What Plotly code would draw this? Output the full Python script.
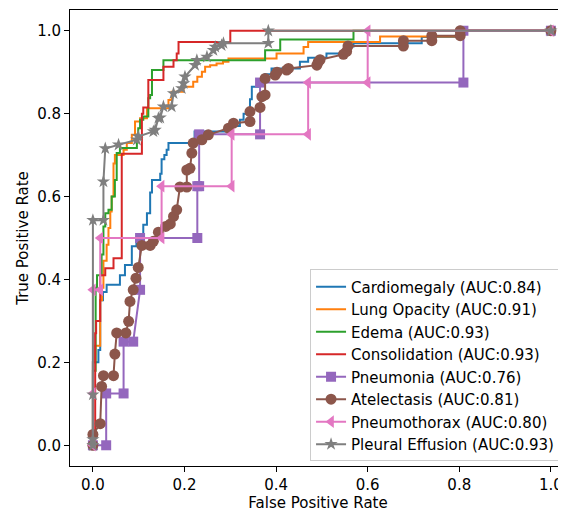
import plotly.graph_objects as go

# ---------------- data ----------------
labels = ["Cardiomegaly", "Lung Opacity", "Edema", "Consolidation",
          "Pneumonia", "Atelectasis", "Pneumothorax", "Pleural Effusion"]
aucs = [0.84, 0.91, 0.93, 0.93, 0.76, 0.81, 0.80, 0.93]

cardio_fpr = [0, 0, 0.012, 0.012, 0.016, 0.016, 0.022, 0.022, 0.03, 0.03, 0.059, 0.059, 0.07, 0.07,
              0.085, 0.085, 0.095, 0.095, 0.11, 0.11, 0.118, 0.118, 0.125, 0.125, 0.129, 0.129,
              0.147, 0.147, 0.15, 0.15, 0.156, 0.156, 0.161, 0.161, 0.165, 0.165, 0.222, 0.222,
              0.3, 0.3, 0.321, 0.321, 0.329, 0.329, 0.343, 0.343, 0.347, 0.347, 0.361, 0.361,
              0.375, 0.375, 0.39, 0.39, 0.452, 0.452, 0.47, 0.47, 0.51, 0.51, 0.554, 0.554,
              0.569, 0.569, 0.718, 0.718, 0.81, 0.81, 1.0]
cardio_tpr = [0, 0.2, 0.2, 0.23, 0.23, 0.35, 0.35, 0.37, 0.37, 0.387, 0.387, 0.41, 0.41, 0.435,
              0.435, 0.48, 0.48, 0.5, 0.5, 0.532, 0.532, 0.56, 0.56, 0.61, 0.61, 0.64,
              0.64, 0.655, 0.655, 0.69, 0.69, 0.7, 0.7, 0.713, 0.713, 0.729, 0.729, 0.757,
              0.757, 0.77, 0.77, 0.785, 0.785, 0.8, 0.8, 0.835, 0.835, 0.865, 0.865, 0.877,
              0.877, 0.895, 0.895, 0.909, 0.909, 0.925, 0.925, 0.935, 0.935, 0.945, 0.945, 0.962,
              0.962, 0.97, 0.97, 0.985, 0.985, 1.0, 1.0]

lung_fpr = [0, 0, 0.005, 0.005, 0.016, 0.016, 0.02, 0.02, 0.023, 0.023, 0.03, 0.03, 0.034, 0.034,
            0.038, 0.038, 0.041, 0.041, 0.045, 0.045, 0.048, 0.048, 0.067, 0.067, 0.074, 0.074,
            0.085, 0.085, 0.092, 0.092, 0.103, 0.103, 0.118, 0.118, 0.165, 0.165, 0.172, 0.172,
            0.198, 0.198, 0.219, 0.219, 0.228, 0.228, 0.238, 0.238, 0.245, 0.245, 0.256, 0.256,
            0.27, 0.27, 0.284, 0.284, 0.296, 0.296, 0.401, 0.401, 0.46, 0.46, 0.47, 0.47,
            0.627, 0.627, 0.805, 0.805, 1.0]
lung_tpr = [0, 0.2, 0.2, 0.24, 0.24, 0.35, 0.35, 0.38, 0.38, 0.445, 0.445, 0.484, 0.484, 0.524,
            0.524, 0.564, 0.564, 0.6, 0.6, 0.68, 0.68, 0.7, 0.7, 0.713, 0.713, 0.729,
            0.729, 0.749, 0.749, 0.781, 0.781, 0.789, 0.789, 0.813, 0.813, 0.833, 0.833, 0.853,
            0.853, 0.865, 0.865, 0.877, 0.877, 0.889, 0.889, 0.901, 0.901, 0.913, 0.913, 0.917,
            0.917, 0.921, 0.921, 0.925, 0.925, 0.933, 0.933, 0.945, 0.945, 0.961, 0.961, 0.973,
            0.973, 0.986, 0.986, 1.0, 1.0]

edema_fpr = [0, 0, 0.006, 0.006, 0.009, 0.009, 0.019, 0.019, 0.023, 0.023, 0.027, 0.027, 0.034,
             0.034, 0.041, 0.041, 0.048, 0.048, 0.052, 0.052, 0.059, 0.059, 0.096, 0.096, 0.099,
             0.099, 0.103, 0.103, 0.11, 0.11, 0.121, 0.121, 0.125, 0.125, 0.129, 0.129, 0.154,
             0.154, 0.376, 0.376, 0.409, 0.409, 0.569, 0.569, 1.0]
edema_tpr = [0, 0.18, 0.18, 0.38, 0.38, 0.41, 0.41, 0.46, 0.46, 0.528, 0.528, 0.56, 0.56,
             0.568, 0.568, 0.6, 0.6, 0.64, 0.64, 0.705, 0.705, 0.717, 0.717, 0.749, 0.749,
             0.765, 0.765, 0.785, 0.785, 0.793, 0.793, 0.837, 0.837, 0.845, 0.845, 0.905, 0.905,
             0.929, 0.929, 0.953, 0.953, 0.979, 0.979, 1.0, 1.0]

consol_fpr = [0, 0.005, 0.005, 0.007, 0.007, 0.016, 0.016, 0.027, 0.027, 0.045, 0.045, 0.063,
              0.063, 0.107, 0.107, 0.11, 0.11, 0.121, 0.121, 0.154, 0.154, 0.176, 0.176, 0.183,
              0.183, 0.187, 0.187, 0.3, 0.3, 1.0]
consol_tpr = [0, 0, 0.27, 0.27, 0.3, 0.3, 0.41, 0.41, 0.427, 0.427, 0.451, 0.451,
              0.703, 0.703, 0.8, 0.8, 0.815, 0.815, 0.881, 0.881, 0.913, 0.913, 0.929, 0.929,
              0.945, 0.945, 0.973, 0.973, 1.0, 1.0]

pneumonia_fpr = [0, 0.029, 0.029, 0.067, 0.067, 0.088, 0.103, 0.103, 0.228, 0.228, 0.232, 0.232,
                 0.365, 0.365, 0.809, 0.809, 1.0]
pneumonia_tpr = [0, 0, 0.125, 0.125, 0.25, 0.25, 0.375, 0.5, 0.5, 0.625, 0.625, 0.75,
                 0.75, 0.875, 0.875, 1.0, 1.0]

atel_fpr = [0, 0, 0.016, 0.019, 0.023, 0.045, 0.048, 0.052, 0.072, 0.078, 0.081, 0.088, 0.094,
            0.099, 0.107, 0.125, 0.132, 0.143, 0.159, 0.169, 0.176, 0.183, 0.19, 0.205, 0.205,
            0.212, 0.216, 0.219, 0.238, 0.252, 0.296, 0.307, 0.343, 0.343, 0.365, 0.369, 0.376,
            0.376, 0.398, 0.402, 0.423, 0.427, 0.489, 0.492, 0.496, 0.547, 0.554, 0.557, 0.678,
            0.678, 0.74, 0.74, 0.802, 0.802, 1.0]
atel_tpr = [0, 0.026, 0.052, 0.142, 0.168, 0.168, 0.22, 0.271, 0.271, 0.299, 0.347, 0.375, 0.403,
            0.429, 0.482, 0.482, 0.492, 0.514, 0.528, 0.534, 0.552, 0.568, 0.623, 0.623, 0.664,
            0.668, 0.705, 0.729, 0.737, 0.749, 0.765, 0.777, 0.781, 0.805, 0.815, 0.841, 0.845,
            0.885, 0.893, 0.9, 0.905, 0.909, 0.917, 0.925, 0.93, 0.943, 0.95, 0.963, 0.963,
            0.976, 0.976, 0.988, 0.988, 1.0, 1.0]

pneumo_fpr = [0, 0, 0.0, 0.016, 0.016, 0.15, 0.15, 0.303, 0.303, 0.47, 0.47, 0.6, 0.6, 1.0]
pneumo_tpr = [0, 0.125, 0.375, 0.375, 0.5, 0.5, 0.625, 0.625, 0.75, 0.75, 0.875, 0.875, 1.0, 1.0]

pleural_fpr = [0, 0, 0, 0, 0.023, 0.023, 0.027, 0.056, 0.096, 0.099, 0.132, 0.136, 0.143, 0.147,
               0.154, 0.172, 0.176, 0.194, 0.198, 0.201, 0.223, 0.227, 0.249, 0.263, 0.267,
               0.281, 0.285, 0.383, 0.383, 1.0]
pleural_tpr = [0, 0.014, 0.122, 0.543, 0.543, 0.636, 0.716, 0.725, 0.737, 0.745, 0.757, 0.761,
               0.789, 0.79, 0.817, 0.817, 0.849, 0.861, 0.873, 0.889, 0.917, 0.929, 0.937, 0.953,
               0.961, 0.965, 0.97, 0.97, 1.0, 1.0]

# ---------------- styling ----------------
colors = ["#1f77b4", "#ff7f0e", "#2ca02c", "#d62728",
          "#9467bd", "#8c564b", "#e377c2", "#7f7f7f"]
symbols = [None, None, None, None, "square", "circle", "triangle-left", "star"]
msizes = [0, 0, 0, 0, 10, 11, 11, 10]

series = [(cardio_fpr, cardio_tpr), (lung_fpr, lung_tpr), (edema_fpr, edema_tpr),
          (consol_fpr, consol_tpr), (pneumonia_fpr, pneumonia_tpr), (atel_fpr, atel_tpr),
          (pneumo_fpr, pneumo_tpr), (pleural_fpr, pleural_tpr)]

fig = go.Figure()
for i, ((fx, ty), lab, auc) in enumerate(zip(series, labels, aucs)):
    kw = dict(x=fx, y=ty, name=f"{lab} (AUC:{auc:.2f})", legendgroup=f"g{i}",
              line=dict(color=colors[i], width=2))
    if symbols[i]:
        kw["mode"] = "lines+markers"
        kw["marker"] = dict(symbol=symbols[i], size=msizes[i], color=colors[i])
    else:
        kw["mode"] = "lines"
    fig.add_trace(go.Scatter(**kw))

ticks = [0.0, 0.2, 0.4, 0.6, 0.8, 1.0]
axis_common = dict(tickvals=ticks, tickformat=".1f", ticks="outside", ticklen=5,
                   tickwidth=1, tickcolor="black", showline=True, linecolor="black",
                   linewidth=1, showgrid=False, zeroline=False, automargin=False,
                   tickfont=dict(size=15, color="black"))

# the page body has an 8px margin, so the figure is sized to fill the rest of the window
fig.update_layout(
    width=558, height=504,
    margin=dict(l=62, r=0, t=2, b=46),
    paper_bgcolor="white", plot_bgcolor="white",
    font=dict(family="DejaVu Sans", size=15, color="black"),
    xaxis=dict(range=[-0.05, 1.033], mirror=True,
               title=dict(text="False Positive Rate", standoff=6, font=dict(size=15)),
               **axis_common),
    yaxis=dict(range=[-0.05, 1.05], mirror=False,
               title=dict(text="True Positive Rate", standoff=4, font=dict(size=15)),
               **axis_common),
    legend=dict(x=0.988, y=0.01, xanchor="right", yanchor="bottom",
                bordercolor="#cccccc", borderwidth=1, bgcolor="rgba(255,255,255,0.8)",
                font=dict(size=15), traceorder="grouped", tracegroupgap=0),
    showlegend=True,
)

fig.write_html("out.html")
